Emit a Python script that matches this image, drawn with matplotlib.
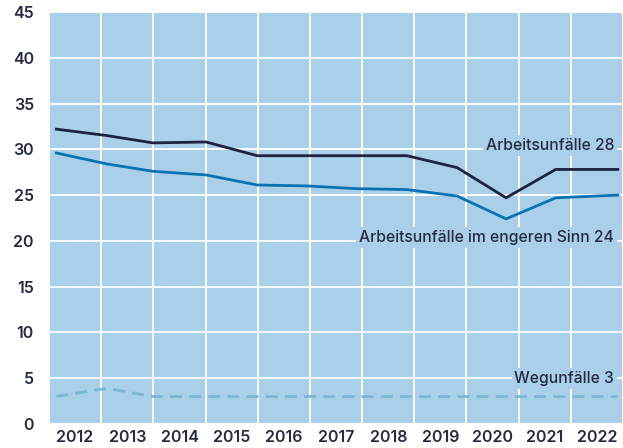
import matplotlib.pyplot as plt
import numpy as np

# x positions of the data points (in year units)
point_x = [2011.64, 2012.61, 2013.49, 2014.51, 2015.49, 2016.44,
           2017.40, 2018.36, 2019.32, 2020.26, 2021.21, 2022.40]
arbeitsunfaelle = [32.2, 31.5, 30.7, 30.8, 29.3, 29.3,
                   29.3, 29.3, 28.0, 24.7, 27.8, 27.8]
engeren_sinn = [29.6, 28.4, 27.6, 27.2, 26.1, 26.0,
                25.7, 25.6, 24.9, 22.4, 24.7, 25.0]
wegunfaelle = [3.0, 3.9, 3.0, 3.0, 3.0, 3.0,
               3.0, 3.0, 3.0, 3.0, 3.0, 3.0]
years = list(range(2012, 2023))
y_ticks = list(range(0, 50, 5))

bg = "#a9d0e8"
text_col = "#262a44"

plt.rcParams["font.family"] = ["Inter", "DejaVu Sans"]
plt.rcParams["font.weight"] = 600

fig = plt.figure(figsize=(6.23, 4.48), dpi=100)
ax = fig.add_axes([0.0787, 0.0536, 0.9213, 0.9197])
ax.set_facecolor(bg)

ax.set_xlim(2011.5, 2022.5)
ax.set_ylim(0, 45)
ax.set_xticks(years)
ax.set_xticks(np.arange(2011.5, 2023, 1), minor=True)
ax.set_yticks(y_ticks)
ax.grid(True, which="minor", axis="x", color="white", lw=1.3)
ax.grid(True, which="major", axis="y", color="white", lw=1.3)
ax.set_axisbelow(True)
for s in ax.spines.values():
    s.set_visible(False)
ax.tick_params(which="both", length=0, colors=text_col, labelsize=11.5)
ax.tick_params(axis="x", pad=4)
ax.tick_params(axis="y", pad=11)

ax.plot(point_x, wegunfaelle, color="#7ab8d6", lw=2, dashes=(4.3, 2.6))
ax.plot(point_x, engeren_sinn, color="#0a72b2", lw=2)
ax.plot(point_x, arbeitsunfaelle, color="#1e2240", lw=2)

box = dict(facecolor=bg, edgecolor="none", pad=2)
ax.text(2022.33, 30.4, "Arbeitsunfälle 28", ha="right", va="center",
        fontsize=11.3, color=text_col, bbox=box, fontweight=500)
ax.text(2022.33, 20.4, "Arbeitsunfälle im engeren Sinn 24", ha="right",
        va="center", fontsize=11.3, color=text_col, bbox=box, fontweight=500)
ax.text(2022.33, 5.0, "Wegunfälle 3", ha="right", va="center",
        fontsize=11.3, color=text_col, bbox=box, fontweight=500)

fig.savefig("out.png", dpi=100)
